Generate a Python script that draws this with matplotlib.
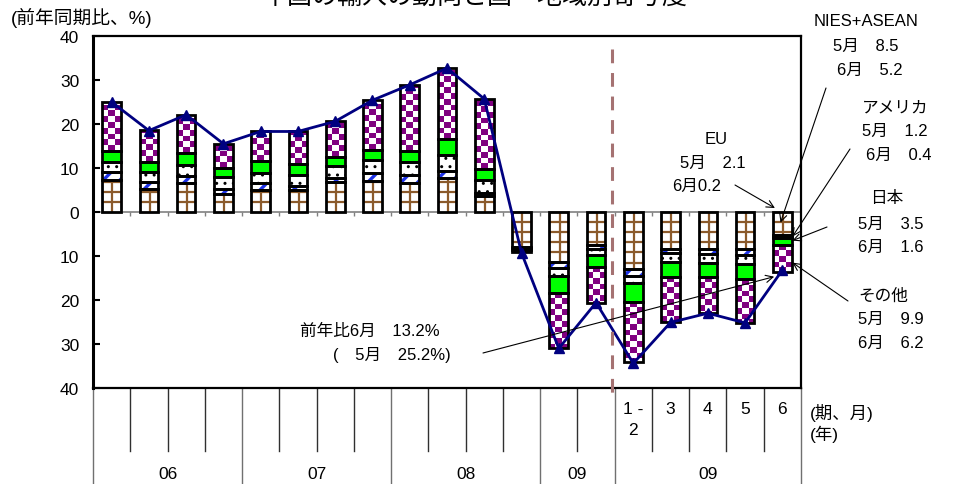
import numpy as np
import matplotlib
matplotlib.use("Agg")
import matplotlib.pyplot as plt
from matplotlib.patches import Rectangle
from matplotlib.colors import ListedColormap

plt.rcParams["font.family"] = ["Liberation Sans", "Noto Sans CJK JP"]
plt.rcParams["hatch.linewidth"] = 1.5

# ---- data: contributions to China's import growth (y/y, %) ----
# 06Q1..08Q4, 09Q1, 09Q2 (quarterly), then 2009 Jan-Feb, Mar, Apr, May, Jun (monthly)
nies_asean = [7.3, 5.3, 6.6, 4.2, 5.1, 4.9, 6.9, 7.1, 6.7, 7.7, 3.6,
              -8.0, -11.4, -7.4, -12.9, -8.5, -8.5, -8.5, -5.2]
usa = [1.8, 1.5, 1.6, 1.0, 1.4, 1.0, 0.8, 1.8, 1.7, 1.7, 0.8,
       -0.1, -1.4, -1.0, -1.7, -0.8, -1.1, -1.2, -0.4]
eu = [2.3, 2.2, 2.4, 2.7, 2.3, 2.4, 2.7, 3.0, 3.0, 3.6, 2.8,
      -0.1, -1.7, -1.3, -1.5, -2.0, -1.9, -2.1, -0.2]
japan = [2.5, 2.3, 2.8, 2.1, 2.7, 2.5, 2.2, 2.3, 2.4, 3.6, 2.6,
         -0.5, -3.9, -2.8, -4.3, -3.4, -3.2, -3.5, -1.6]
others = [11.0, 7.3, 8.7, 5.4, 6.8, 7.5, 8.1, 11.2, 15.0, 16.1, 15.9,
          -0.3, -12.6, -8.2, -13.8, -10.4, -8.3, -9.9, -6.2]
total = [25.0, 18.5, 22.1, 15.5, 18.3, 18.3, 20.6, 25.4, 28.9, 32.7, 25.7,
         -9.3, -31.0, -20.6, -34.4, -25.1, -23.0, -25.2, -13.2]

year_labels = ["06", "07", "08", "09", "09"]
group_sizes = [4, 4, 4, 2, 5]
month_labels = ["1 -\n2", "3", "4", "5", "6"]
ytick_values = [-40, -30, -20, -10, 0, 10, 20, 30, 40]

W, H = 963, 485
fig = plt.figure(figsize=(W / 100, H / 100), dpi=100)
ax = fig.add_axes([93 / W, 1 - 389 / H, (801 - 93) / W, 352 / H])

n = len(total)
x = np.arange(n)
bw = 0.5

ax.set_xlim(-0.5, n - 0.5)
ax.set_ylim(-40, 40)

# zero line with small category ticks
ax.axhline(0, color="#808080", lw=1.2, zorder=1)
ax.vlines(np.arange(0.5, n - 0.5, 1), -0.9, 0, color="#808080", lw=1.0, zorder=1)

checker_cmap = ListedColormap(["white", "#800080"])


def seg_rect(xi, b, v):
    return Rectangle((xi - bw / 2, min(b, b + v)), bw, abs(v), transform=ax.transData)


def draw_checker(xs, bottoms, vals):
    cell_h = 1.3
    for xi, b, v in zip(xs, bottoms, vals):
        x0 = xi - bw / 2
        nrows = int(np.ceil(abs(v) / cell_h)) + 1
        arr = np.add.outer(np.arange(nrows), np.arange(3)) % 2
        if v >= 0:
            ext = (x0, x0 + bw, b, b + nrows * cell_h)
            origin = "lower"
        else:
            ext = (x0, x0 + bw, b - nrows * cell_h, b)
            origin = "upper"
        im = ax.imshow(arr, cmap=checker_cmap, vmin=0, vmax=1, extent=ext,
                       origin=origin, aspect="auto", interpolation="nearest",
                       zorder=2)
        im.set_clip_path(seg_rect(xi, b, v))


def draw_grid(xs, bottoms, vals, color):
    step = 2.3
    for xi, b, v in zip(xs, bottoms, vals):
        ax.bar(xi, v, bw, bottom=b, color="white", linewidth=0, zorder=2)
        clip = seg_rect(xi, b, v)
        sign = 1 if v >= 0 else -1
        levels = b + sign * np.arange(step, abs(v), step)
        hl = ax.hlines(levels, xi - bw / 2, xi + bw / 2, color=color, lw=1.6, zorder=2)
        hl.set_clip_path(clip)
        vl = ax.vlines([xi + 0.02], b, b + v, color=color, lw=1.6, zorder=2)
        vl.set_clip_path(clip)


styles = [
    (nies_asean, dict(kind="grid", color="#8B5A2B")),
    (usa, dict(kind="hatch", hatch="//", color="#1E32E6")),
    (eu, dict(kind="hatch", hatch="..", color="black")),
    (japan, dict(kind="solid", color="#00FF00")),
    (others, dict(kind="checker")),
]

pos_base = np.zeros(n)
neg_base = np.zeros(n)
for vals, st in styles:
    v = np.array(vals, dtype=float)
    bottoms = np.where(v >= 0, pos_base, neg_base)
    if st["kind"] == "hatch":
        lw_h = 2.4 if st["hatch"] == "//" else 1.0
        with plt.rc_context({"hatch.linewidth": lw_h}):
            bars = ax.bar(x, v, bw, bottom=bottoms, color="white",
                          edgecolor=st["color"], hatch=st["hatch"],
                          linewidth=0, zorder=2)
            for p in bars:
                if hasattr(p, "set_hatch_linewidth"):
                    p.set_hatch_linewidth(lw_h)
    elif st["kind"] == "grid":
        draw_grid(x, bottoms, v, st["color"])
    elif st["kind"] == "solid":
        ax.bar(x, v, bw, bottom=bottoms, color=st["color"], linewidth=0, zorder=2)
    else:
        draw_checker(x, bottoms, v)
    ax.bar(x, v, bw, bottom=bottoms, fill=False, edgecolor="black",
           linewidth=2.0, zorder=3)
    pos_base = pos_base + np.where(v >= 0, v, 0)
    neg_base = neg_base + np.where(v < 0, v, 0)

# total growth line
ax.plot(x, total, color="#000080", lw=2, marker="^", ms=7, zorder=4)

# separator between quarterly and monthly data
split = sum(group_sizes[:4]) - 0.58
ax.plot([split, split], [37.1, -41.5], color="#A57272", lw=2.2,
        dashes=[4.5, 3.2], zorder=5, clip_on=False)

# y axis
ax.set_yticks(ytick_values)
ax.set_yticklabels([str(abs(v)) for v in ytick_values])
ax.tick_params(axis="y", direction="in", length=5, width=1.5, labelsize=12.5, pad=10)
ax.set_xticks([])
for side in ["top", "right", "bottom"]:
    ax.spines[side].set_linewidth(1.6)
ax.spines["left"].set_linewidth(2.2)

# category table below the plot
trans = ax.get_xaxis_transform()
edges = np.concatenate([[-0.5], np.cumsum(group_sizes) - 0.5])
for b in np.arange(-0.5, n, 1.0):
    is_long = np.any(np.isclose(edges, b))
    ax.plot([b, b], [0, -0.275 if is_long else -0.179], transform=trans,
            clip_on=False, color="#707070" if is_long else "#303030", lw=1.0)

month_start = sum(group_sizes[:4])
for i, lab in enumerate(month_labels):
    ax.text(month_start + i, -0.038, lab, transform=trans, ha="center", va="top",
            fontsize=12.5, linespacing=1.45)

start = 0
for lab, size in zip(year_labels, group_sizes):
    ax.text(start + (size - 1) / 2, -0.244, lab, transform=trans, ha="center",
            va="center", fontsize=12.5)
    start += size


def ftext(px, py, s, ha="left", size=12, **kw):
    fig.text(px / W, 1 - py / H, s, ha=ha, va="center", fontsize=size, **kw)


def arrow(px, py, target):
    ax.annotate("", xy=target, xycoords="data", xytext=(px, H - py),
                textcoords="figure pixels",
                arrowprops=dict(arrowstyle="->", lw=0.8, color="black",
                                shrinkA=0, shrinkB=0, mutation_scale=13),
                zorder=6, annotation_clip=False)


ftext(475, -3, "中国の輸入の動向と国・地域別寄与度", ha="center", size=18)
ftext(11, 18, "(前年同期比、%)", size=13.5)
ftext(810, 413, "(期、月)", size=12.5)
ftext(810, 434, "(年)", size=12.5)

# region annotations for May/June 2009
ftext(866, 22, "NIES+ASEAN", ha="center")
ftext(833, 46, "5月　8.5")
ftext(837, 70, "6月　5.2")
arrow(826, 89, (17.95, -2.4))

ftext(895, 108, "アメリカ", ha="center")
ftext(862, 131, "5月　1.2")
ftext(866, 155, "6月　0.4")
arrow(850, 150, (18.27, -5.6))

ftext(887, 199, "日本", ha="center")
ftext(858, 224, "5月　3.5")
ftext(858, 247, "6月　1.6")
arrow(827, 228, (18.27, -6.5))

ftext(858, 296, "その他")
ftext(858, 319, "5月　9.9")
ftext(858, 343, "6月　6.2")
arrow(848, 302, (18.27, -11.5))

ftext(716, 140, "EU", ha="center")
ftext(680, 163, "5月　2.1")
ftext(672, 186, "6月0.2")
arrow(735, 186, (17.8, 0.9))

ftext(300, 331, "前年比6月　13.2%")
ftext(333, 355, "(　5月　25.2%)")
arrow(483, 354, (17.78, -14.7))

fig.savefig("out.png", dpi=100)
